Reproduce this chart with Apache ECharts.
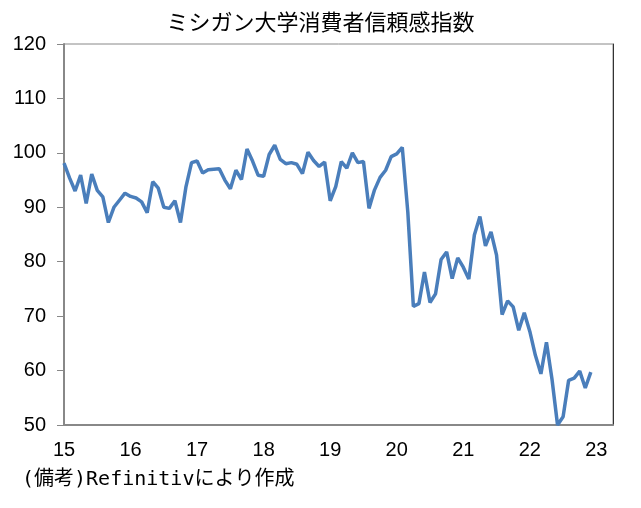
<!DOCTYPE html>
<html><head><meta charset="utf-8">
<script src="https://cdn.jsdelivr.net/npm/echarts@6/dist/echarts.min.js"></script>
<style>html,body{margin:0;padding:0;background:#fff}#c{width:641px;height:508px}</style>
</head><body><div id="c"></div>
<script>
const title = "ミシガン大学消費者信頼感指数";
const note = "(備考)Refinitivにより作成";
const yearLabels = ["15","16","17","18","19","20","21","22","23"];
const yTicks = [50,60,70,80,90,100,110,120];
const v2015 = [98.1,95.4,93.0,95.9,90.7,96.1,93.1,91.9,87.2,90.0,91.3,92.6];
const v2016 = [92.0,91.7,91.0,89.0,94.7,93.5,90.0,89.8,91.2,87.2,93.8,98.2];
const v2017 = [98.5,96.3,96.9,97.0,97.1,95.0,93.4,96.8,95.1,100.7,98.5,95.9];
const v2018 = [95.7,99.7,101.4,98.8,98.0,98.2,97.9,96.2,100.1,98.6,97.5,98.3];
const v2019 = [91.2,93.8,98.4,97.2,100.0,98.2,98.4,89.8,93.2,95.5,96.8,99.3];
const v2020 = [99.8,101.0,89.1,71.8,72.3,78.1,72.5,74.1,80.4,81.8,76.9,80.7];
const v2021 = [79.0,76.8,84.9,88.3,82.9,85.5,81.2,70.3,72.8,71.7,67.4,70.6];
const v2022 = [67.2,62.8,59.4,65.2,58.4,50.0,51.5,58.2,58.6,59.9,56.8,59.7];
const values = [].concat(v2015,v2016,v2017,v2018,v2019,v2020,v2021,v2022);
const data = values.map((v,i)=>[i,v]);
const font = "'Liberation Sans','Noto Sans CJK JP',sans-serif";
const chart = echarts.init(document.getElementById('c'));
chart.setOption({
  animation:false,
  backgroundColor:'#fff',
  title:{text:title,left:'center',top:6,textStyle:{fontFamily:"'Noto Sans CJK JP',sans-serif",fontSize:22,fontWeight:'normal',color:'#000'}},
  graphic:[{type:'text',left:22,top:470,style:{text:note,font:"20px 'DejaVu Sans Mono','Noto Sans CJK JP',monospace",fill:'#000'}}],
  grid:{left:64,right:28,top:44,bottom:83,show:true,borderColor:'#888',borderWidth:1},
  xAxis:{type:'value',min:0,max:99,interval:12,
    axisLine:{show:true,lineStyle:{color:'#888',width:2}},
    axisTick:{show:false},splitLine:{show:false},
    axisLabel:{fontFamily:font,fontSize:20,color:'#000',margin:15,showMaxLabel:false,
      formatter:(v)=>yearLabels[v/12]}},
  yAxis:[{type:'value',min:50,max:120,interval:10,
    axisLine:{show:true,lineStyle:{color:'#888',width:2}},
    axisTick:{show:true,length:7,lineStyle:{color:'#888'}},splitLine:{show:false},
    axisLabel:{fontFamily:font,fontSize:20,color:'#000',margin:18,
      formatter:(v)=>yTicks.includes(v)?String(v):''}},
    {type:'value',position:'right',min:50,max:120,interval:10,
    axisLine:{show:true,lineStyle:{color:'#333',width:1}},
    axisTick:{show:false},axisLabel:{show:false},splitLine:{show:false}}],
  series:[{type:'line',data:data,showSymbol:false,lineStyle:{color:'#4a7ebb',width:3.5},itemStyle:{color:'#4a7ebb'}}]
});
</script></body></html>
